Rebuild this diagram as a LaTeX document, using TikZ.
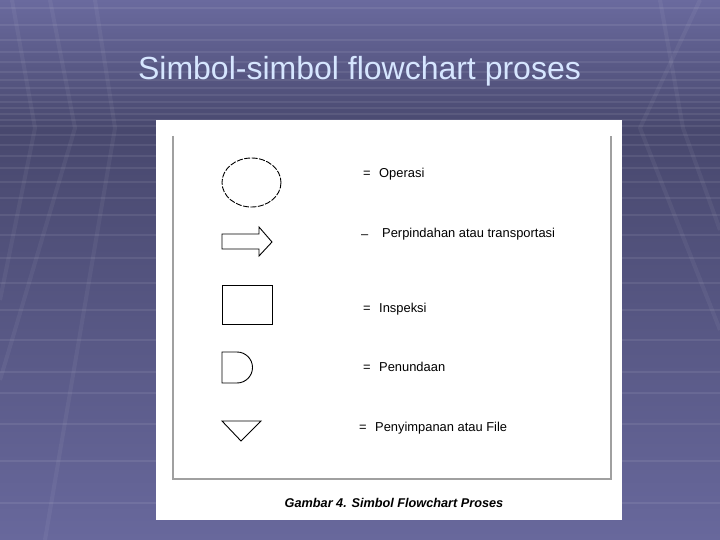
\documentclass[tikz,border=0pt]{standalone}
\usepackage{fontspec}
\setmainfont{Liberation Sans}
\usepackage{tikz}
\usetikzlibrary{calc}
\definecolor{slidetop}{RGB}{106,106,158}
\definecolor{slideband}{RGB}{72,72,110}
\definecolor{slidebottom}{RGB}{104,104,156}
\definecolor{titleblue}{RGB}{214,230,255}
\definecolor{framegray}{RGB}{160,160,160}
\tikzset{
	entry/.style={anchor=base west,inner sep=0pt,font=\fontsize{12.9}{14}\selectfont},
	symbol/.style={draw=black,line width=0.9pt,line join=miter},
	gridline/.style={white,opacity=0.08,line width=1.3pt},
	sweep/.style={white,opacity=0.05,line width=4pt}
}
\newcommand{\drawentry}[5]{
	\draw #1 node (#2sign) [entry] {#3};
	\draw #4 node (#2) [entry] {#5};
}

\begin{document}
\begin{tikzpicture}[x=1pt,y=-1pt]
	\useasboundingbox (0,0) rectangle (720,540);
	% slide background
	\shade[top color=slidetop,bottom color=slideband] (0,0) rectangle (720,130);
	\shade[top color=slideband,bottom color=slidebottom] (0,130) rectangle (720,540);
	\foreach \y in {8,25,40,52,62,72,80,88,95,102,108,114,120,126,135,145,156,168,182,198,215,235,258,283,310,340,372,393,424,461,503}
		\draw[gridline] (0,\y) -- (720,\y);
	\draw[sweep] (12,0) -- (35,128) -- (0,300);
	\draw[sweep] (50,0) -- (75,128) -- (15,330) -- (0,380);
	\draw[sweep] (95,0) -- (115,128) -- (45,540);
	\draw[sweep] (700,0) -- (640,128) -- (720,330);
	\draw[sweep] (660,0) -- (683,128) -- (720,230);
	% title
	\draw (359.5,79.5) node (title) [anchor=base,inner sep=0pt,text=titleblue,font=\fontsize{32}{36}\selectfont] {Simbol-simbol flowchart proses};
	% white panel and frame
	\fill[white] (156,120) rectangle (622,520);
	\draw[framegray,line width=1.1pt] (173,136) -- (173,479) -- (611,479) -- (611,136);
	% symbols
	\draw[symbol,dash pattern=on 6pt off 1.5pt] (251.5,182.5) ellipse[x radius=29.5,y radius=24.5];
	\draw[symbol] (222,234) -- (259,234) -- (259,227) -- (272,242) -- (259,256) -- (259,249) -- (222,249) -- cycle;
	\draw[symbol] (222,285) rectangle (272,324);
	\draw[symbol] (222,352) -- (237,352) arc[start angle=-90,end angle=90,radius=15.5] -- (222,383) -- cycle;
	\draw[symbol] (222,421) -- (261,421) -- (241,441) -- cycle;
	% labels
	\drawentry{(363,177.6)}{operasi}{=}{(379,177.6)}{Operasi}
	\drawentry{(361,239)}{pindah}{--}{(382,237.6)}{Perpindahan atau transportasi}
	\drawentry{(363,312.6)}{inspeksi}{=}{(379,312.6)}{Inspeksi}
	\drawentry{(363,371.6)}{tunda}{=}{(379,371.6)}{Penundaan}
	\drawentry{(359,431.6)}{simpan}{=}{(375,431.6)}{Penyimpanan atau File}
	% caption
	\draw (394,507.5) node (caption) [anchor=base,inner sep=0pt,font=\fontsize{12.7}{14}\selectfont\bfseries\itshape] {Gambar 4. Simbol Flowchart Proses};
\end{tikzpicture}
\end{document}
